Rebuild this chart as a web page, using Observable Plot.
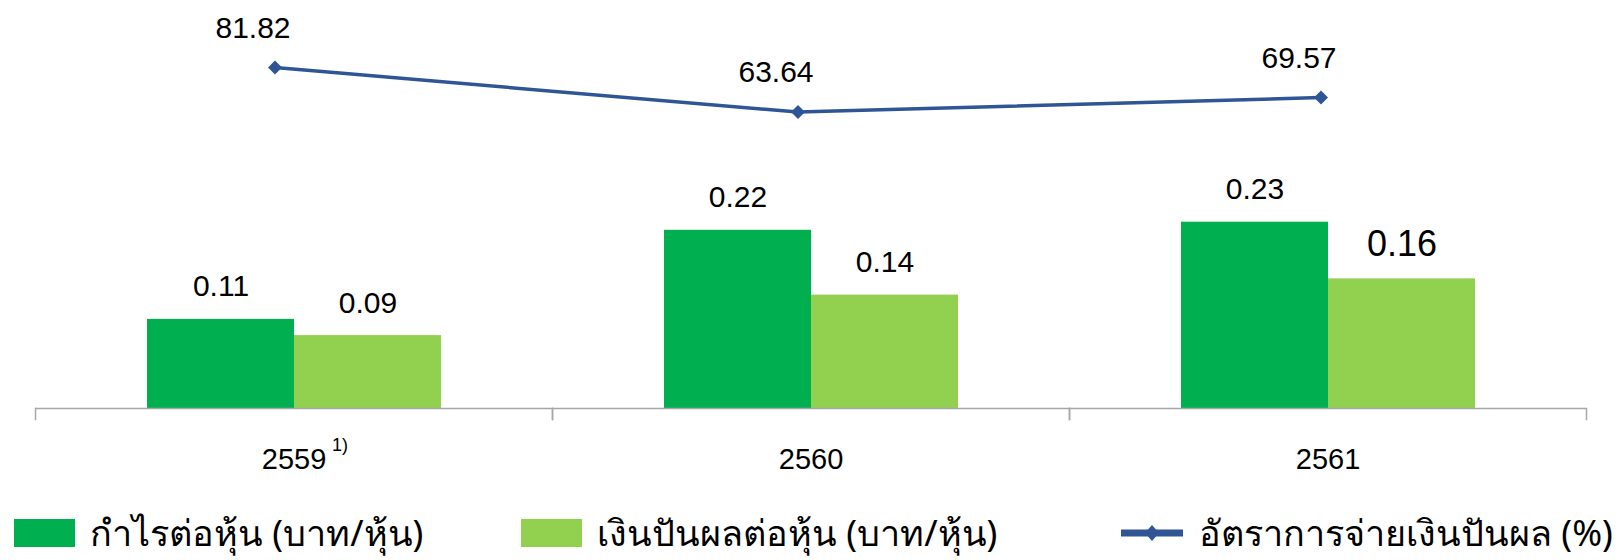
<!DOCTYPE html>
<html>
<head>
<meta charset="utf-8">
<script src="https://cdn.jsdelivr.net/npm/d3@7"></script>
<script src="https://cdn.jsdelivr.net/npm/@observablehq/plot@0.6"></script>
<style>
  body { margin: 0; background: #fff; }
  #wrap { position: relative; width: 1618px; height: 560px; overflow: hidden; background: #fff;
          font-family: "Liberation Sans", Arial, sans-serif; color: #000; }
  #wrap svg.plot { position: absolute; top: 0; left: 0; }
  #overlay { pointer-events: none; }
  .leg { position: absolute; display: flex; align-items: center; height: 40px; top: 513px; white-space: nowrap; }
  .leg .sw { width: 61px; height: 28px; margin-right: 15px; }
  .leg .txt { font-family: "Noto Sans", "DejaVu Sans", sans-serif; font-size: 36px; line-height: 40px; }
</style>
</head>
<body>
<div id="wrap"></div>
<script>
// ---- data ----
const years = ["2559", "2560", "2561"];
const eps = [0.11, 0.22, 0.23];          // กำไรต่อหุ้น (บาท/หุ้น)
const dps = [0.09, 0.14, 0.16];          // เงินปันผลต่อหุ้น (บาท/หุ้น)
const payout = [81.82, 63.64, 69.57];    // อัตราการจ่ายเงินปันผล (%)
const seriesKeys = ["eps", "dps"];
const seriesNames = ["กำไรต่อหุ้น (บาท/หุ้น)", "เงินปันผลต่อหุ้น (บาท/หุ้น)", "อัตราการจ่ายเงินปันผล (%)"];
const footnote = "1)";

// ---- styles ----
const C_EPS = "#00B050", C_DPS = "#92D050", C_LINE = "#2F5597", C_AXIS = "#A6A6A6";
const W = 1618, H = 490, MT = 3, MB = 82;

const bars = years.flatMap((y, i) => [
  {year: y, key: "eps", value: eps[i]},
  {year: y, key: "dps", value: dps[i]}
]);
const pts = years.map((y, i) => ({year: y, value: payout[i]}));

const wrap = document.getElementById("wrap");

// primary chart: bars (EPS / DPS) faceted by year
const main = Plot.plot({
  width: W, height: H,
  marginLeft: 34, marginRight: 32, marginTop: MT, marginBottom: MB,
  style: {fontFamily: "'Liberation Sans', Arial, sans-serif", fontSize: "30px", color: "#000", background: "transparent"},
  fx: {domain: years, padding: 0, label: null},
  x: {domain: seriesKeys, axis: null, paddingInner: 0, paddingOuter: 0.754},
  y: {domain: [0, 0.5], axis: null},
  color: {domain: seriesKeys, range: [C_EPS, C_DPS]},
  marks: [
    Plot.barY(bars, {fx: "year", x: "key", y: "value", fill: "key"}),
    Plot.ruleY([0], {stroke: C_AXIS, strokeWidth: 1.5}),
    Plot.frame({anchor: "left", stroke: C_AXIS, strokeWidth: 1.5, insetTop: H - MT - MB, insetBottom: -11}),
    Plot.frame({anchor: "right", stroke: C_AXIS, strokeWidth: 1.5, insetTop: H - MT - MB, insetBottom: -11}),
    Plot.text(bars, {
      fx: "year", x: "key", y: "value", text: d => d.value.toFixed(2),
      lineAnchor: "bottom", dy: -23, fill: "#000",
      fontSize: d => (d.year === "2561" && d.key === "dps") ? 36 : 30
    }),
    Plot.axisFx({anchor: "bottom", tickSize: 0, tickPadding: 40, fontSize: 29, label: null}),
    Plot.text([{year: years[0], t: footnote}], {
      fx: "year", text: "t", frameAnchor: "bottom", lineAnchor: "bottom",
      dx: 46, dy: 42, fontSize: 18, fill: "#000"
    })
  ]
});
main.classList.add("plot");
wrap.appendChild(main);

// secondary axis: payout ratio line
const over = Plot.plot({
  width: W, height: H,
  marginLeft: 13, marginRight: 36, marginTop: MT, marginBottom: MB,
  style: {fontFamily: "'Liberation Sans', Arial, sans-serif", fontSize: "30px", color: "#000", background: "transparent"},
  x: {type: "band", domain: years, padding: 0, axis: null},
  y: {domain: [-57.5, 108], axis: null},
  marks: [
    Plot.line(pts, {x: "year", y: "value", stroke: C_LINE, strokeWidth: 3.5}),
    Plot.dot(pts, {x: "year", y: "value", symbol: "diamond2", r: 6.3, fill: C_LINE, stroke: "none"}),
    Plot.text(pts, {x: "year", y: "value", text: d => d.value.toFixed(2), lineAnchor: "bottom",
      dx: -22, dy: -30, fontSize: 30, fill: "#000"})
  ]
});
over.classList.add("plot");
over.id = "overlay";
wrap.appendChild(over);

// legend (HTML, below the chart area)
const legendDefs = [
  {left: 14, name: seriesNames[0], type: "bar", color: C_EPS},
  {left: 521, name: seriesNames[1], type: "bar", color: C_DPS},
  {left: 1121, name: seriesNames[2], type: "line", color: C_LINE}
];
for (const d of legendDefs) {
  const item = document.createElement("div");
  item.className = "leg";
  item.style.left = d.left + "px";
  if (d.type === "bar") {
    const sw = document.createElement("div");
    sw.className = "sw";
    sw.style.background = d.color;
    item.appendChild(sw);
  } else {
    const ns = "http://www.w3.org/2000/svg";
    const s = document.createElementNS(ns, "svg");
    s.setAttribute("width", 62); s.setAttribute("height", 28);
    s.style.marginRight = "16px";
    const l = document.createElementNS(ns, "line");
    l.setAttribute("x1", 0); l.setAttribute("x2", 62); l.setAttribute("y1", 14); l.setAttribute("y2", 14);
    l.setAttribute("stroke", d.color); l.setAttribute("stroke-width", 7);
    const p = document.createElementNS(ns, "path");
    p.setAttribute("d", "M31,6 L38,14 L31,22 L24,14 Z");
    p.setAttribute("fill", d.color);
    s.appendChild(l); s.appendChild(p);
    item.appendChild(s);
  }
  const t = document.createElement("span");
  t.className = "txt";
  t.textContent = d.name;
  item.appendChild(t);
  wrap.appendChild(item);
}
</script>
</body>
</html>
